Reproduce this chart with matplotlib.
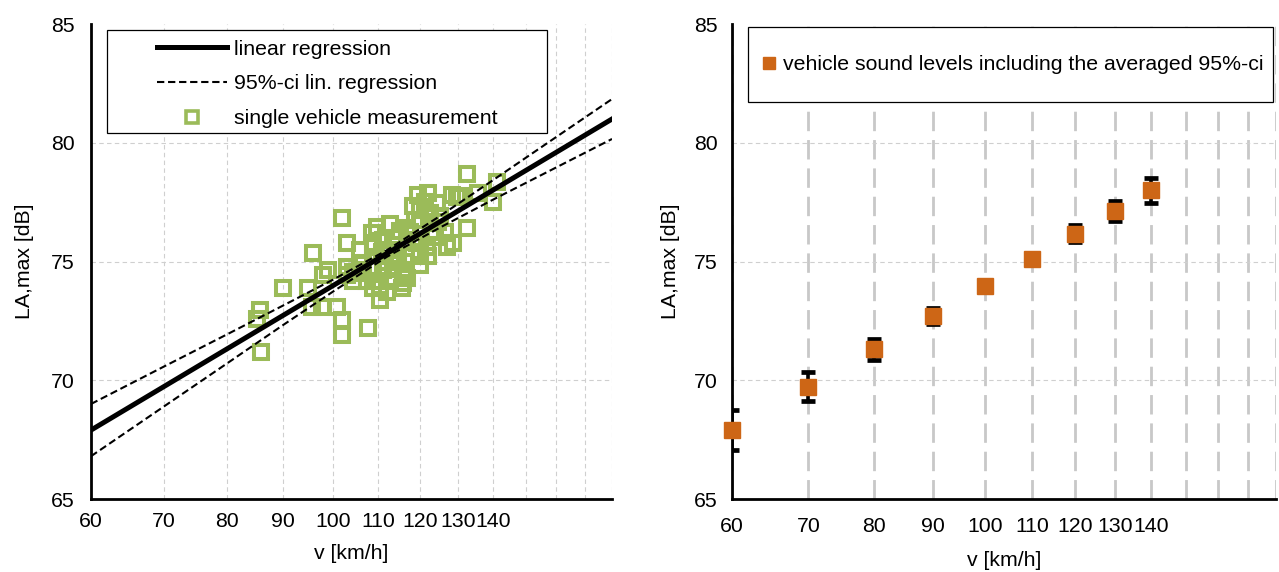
import matplotlib
matplotlib.use('Agg')
import matplotlib.pyplot as plt
from matplotlib.patches import Rectangle
from matplotlib.lines import Line2D

plt.rcParams['font.family'] = ['Liberation Sans', 'DejaVu Sans']
plt.rcParams['font.size'] = 15.3

# single vehicle measurements (speed km/h, LA,max dB)
meas_v = [85.1, 85.7, 85.9, 89.9, 94.8, 95.8, 95.6, 97.7, 97.9, 98.9,
          100.8, 101.9, 103.0, 101.9, 101.9, 107.6, 103.0, 104.3, 106.5, 105.9,
          108.5, 108.7, 110.3, 109.7, 112.7, 115.1, 116.8, 111.0, 113.4, 116.8,
          119.3, 121.9, 108.7, 110.8, 112.7, 114.6, 118.1, 120.1, 122.1, 103.0,
          105.9, 108.7, 111.0, 113.4, 115.8, 104.3, 107.4, 109.7, 112.7, 116.8,
          108.7, 112.0, 115.6, 119.6, 122.1, 121.3, 124.4, 120.1, 122.6, 125.2,
          128.5, 127.1, 128.7, 132.6, 132.6, 129.8, 131.0, 135.7, 141.2, 140.0,
          124.6, 118.9, 117.6, 123.1, 113.9, 116.3, 111.5, 120.1, 115.8, 110.3,
          106.5, 124.0, 126.5, 118.3]
meas_la = [72.6, 72.95, 71.2, 73.9, 73.9, 75.35, 73.1, 73.1, 74.45, 74.65,
           73.1, 76.85, 75.8, 72.55, 71.9, 72.2, 74.45, 74.55, 74.5, 75.5,
           76.2, 75.8, 73.9, 76.45, 76.6, 76.3, 76.4, 75.9, 76.0, 75.9,
           75.8, 75.6, 75.6, 75.4, 75.5, 75.2, 75.25, 75.4, 75.25, 74.75,
           74.65, 74.75, 74.65, 74.7, 74.55, 74.2, 74.2, 74.2, 74.2, 74.3,
           73.9, 73.7, 73.9, 77.8, 77.9, 77.5, 77.45, 77.15, 77.05, 76.9,
           77.8, 75.6, 75.8, 78.7, 76.4, 77.7, 77.75, 77.9, 78.35, 77.5,
           76.65, 76.75, 76.25, 76.3, 75.05, 75.0, 75.0, 74.85, 74.1, 73.4,
           74.95, 76.05, 76.25, 77.35]

# linear regression (straight in log v) and its 95% confidence band
reg_v = [60, 180]
reg_la = [67.9, 81.0]
ci_v = [60, 70, 80, 90, 100, 112, 125, 140, 160, 180]
ci_upper = [69.0, 70.58, 71.94, 73.15, 74.24, 75.48, 76.89, 78.42, 80.24, 81.84]
ci_lower = [66.8, 68.90, 70.72, 72.33, 73.74, 75.20, 76.41, 77.60, 78.96, 80.16]

# averaged vehicle sound levels per speed class
class_v = [60, 70, 80, 90, 100, 110, 120, 130, 140]
class_la = [67.9, 69.73, 71.31, 72.72, 73.99, 75.12, 76.17, 77.11, 78.0]
class_ci = [0.85, 0.62, 0.44, 0.34, 0.2, 0.2, 0.36, 0.42, 0.53]

grid_v = [60, 70, 80, 90, 100, 110, 120, 130, 140, 150, 160, 170, 180]
tick_labels = ['60', '70', '80', '90', '100', '110', '120', '130', '140', '', '', '', '']
y_ticks = [65, 70, 75, 80, 85]

green = '#9BBB59'
orange = '#CD6616'
gridc = '#CFCFCF'
fs = 15.3

fig = plt.figure(figsize=(12.79, 5.72), dpi=100)
ax1 = fig.add_axes([0.0711, 0.1276, 0.4074, 0.8304])
ax2 = fig.add_axes([0.5723, 0.1276, 0.4253, 0.8304])


def style_axes(ax, ypad, xpad):
    ax.set_xscale('log')
    ax.set_xlim(60, 180)
    ax.set_ylim(65, 85)
    ax.set_xticks(grid_v)
    ax.set_xticklabels(tick_labels)
    ax.minorticks_off()
    ax.set_yticks(y_ticks)
    ax.tick_params(length=0, labelsize=fs)
    ax.tick_params(axis='y', pad=ypad)
    ax.tick_params(axis='x', pad=xpad)
    for s in ['top', 'right']:
        ax.spines[s].set_visible(False)
    for s in ['left', 'bottom']:
        ax.spines[s].set_linewidth(2)
        ax.spines[s].set_color('black')
        ax.spines[s].set_zorder(3)
    ax.set_xlabel('v [km/h]', fontsize=fs)
    ax.set_ylabel('LA,max [dB]', fontsize=fs)


# ---- left: single measurements with regression ----
style_axes(ax1, 12, 9)
ax1.grid(True, axis='both', color=gridc, lw=0.8, linestyle=(0, (4, 3)))
for gl in ax1.get_ygridlines()[-1:]:
    gl.set_visible(False)
ax1.set_axisbelow(True)
ax1.xaxis.labelpad = 10
ax1.yaxis.labelpad = 12

ax1.plot(meas_v, meas_la, 's', ms=9.6, mfc='none', mec=green, mew=2.9, zorder=2)
ax1.plot(reg_v, reg_la, '-', color='black', lw=3.6, zorder=4)
ax1.plot(ci_v, ci_upper, color='black', lw=1.5, dashes=(3.5, 1.8), zorder=4)
ax1.plot(ci_v, ci_lower, color='black', lw=1.5, dashes=(3.5, 1.8), zorder=4)

ax1.add_patch(Rectangle((0.0307, 0.7705), 0.8445, 0.2169, transform=ax1.transAxes,
                        facecolor='white', edgecolor='black', lw=0.9, zorder=5))
h1 = [Line2D([], [], color='black', lw=3.6),
      Line2D([], [], color='black', lw=1.5, dashes=(3.5, 1.8)),
      Line2D([], [], ls='none', marker='s', ms=8, mfc='none', mec=green, mew=2.6)]
leg1 = ax1.legend(h1, ['linear regression', '95%-ci lin. regression',
                       'single vehicle measurement'],
                  loc='center', bbox_to_anchor=(0.453, 0.874), frameon=False,
                  fontsize=fs, handlelength=3.3, handletextpad=0.33, labelspacing=0.74,
                  borderpad=0.3)
leg1.set_zorder(6)

# ---- right: class averages with error bars ----
style_axes(ax2, 10, 13)
ax2.grid(True, axis='y', color=gridc, lw=0.8, linestyle=(0, (4, 3)))
ax2.grid(True, axis='x', color='#C8C8C8', lw=2.0, dashes=(7, 3.2))
for gl in ax2.get_ygridlines()[-1:]:
    gl.set_visible(False)
ax2.set_axisbelow(True)
ax2.xaxis.labelpad = 11
ax2.yaxis.labelpad = 10

ax2.errorbar(class_v, class_la, yerr=class_ci, fmt='none', ecolor='black',
             elinewidth=2.6, capsize=4.8, capthick=3.4, zorder=4)
ax2.plot(class_v, class_la, 's', ms=11, color=orange, mec=orange, zorder=6, clip_on=False)

ax2.add_patch(Rectangle((0.0294, 0.8358), 0.9651, 0.1579, transform=ax2.transAxes,
                        facecolor='white', edgecolor='black', lw=0.9, zorder=5,
                        clip_on=False))
h2 = [Line2D([], [], ls='none', marker='s', ms=8.5, color=orange)]
leg2 = ax2.legend(h2, ['vehicle sound levels including the averaged 95%-ci'],
                  loc='center', bbox_to_anchor=(0.516, 0.9147), frameon=False,
                  fontsize=fs, handlelength=0.7, handletextpad=0.3, borderpad=0.2)
leg2.set_zorder(7)

fig.savefig('out.png', dpi=100)
